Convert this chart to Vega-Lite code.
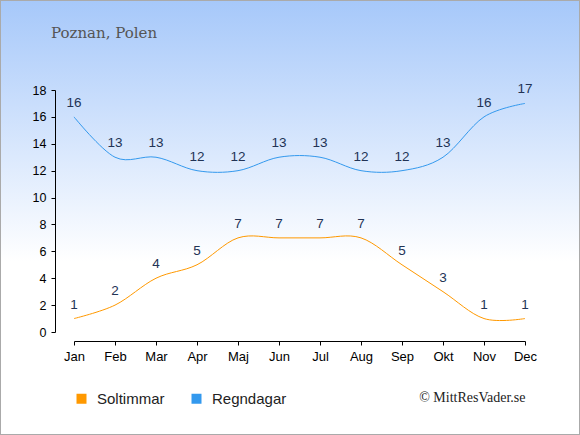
{
  "$schema": "https://vega.github.io/schema/vega-lite/v6.json",
  "width": 580,
  "height": 435,
  "autosize": "none",
  "padding": 0,
  "background": "#ffffff",
  "title": {
    "text": "Poznan, Polen",
    "anchor": "start",
    "dx": 51,
    "offset": -41,
    "font": "DejaVu Serif",
    "fontSize": 15,
    "fontWeight": "normal",
    "color": "#555555"
  },
  "data": {
    "values": [
      {"month": "Jan", "series": "Soltimmar", "value": 1},
      {"month": "Feb", "series": "Soltimmar", "value": 2},
      {"month": "Mar", "series": "Soltimmar", "value": 4},
      {"month": "Apr", "series": "Soltimmar", "value": 5},
      {"month": "Maj", "series": "Soltimmar", "value": 7},
      {"month": "Jun", "series": "Soltimmar", "value": 7},
      {"month": "Jul", "series": "Soltimmar", "value": 7},
      {"month": "Aug", "series": "Soltimmar", "value": 7},
      {"month": "Sep", "series": "Soltimmar", "value": 5},
      {"month": "Okt", "series": "Soltimmar", "value": 3},
      {"month": "Nov", "series": "Soltimmar", "value": 1},
      {"month": "Dec", "series": "Soltimmar", "value": 1},
      {"month": "Jan", "series": "Regndagar", "value": 16},
      {"month": "Feb", "series": "Regndagar", "value": 13},
      {"month": "Mar", "series": "Regndagar", "value": 13},
      {"month": "Apr", "series": "Regndagar", "value": 12},
      {"month": "Maj", "series": "Regndagar", "value": 12},
      {"month": "Jun", "series": "Regndagar", "value": 13},
      {"month": "Jul", "series": "Regndagar", "value": 13},
      {"month": "Aug", "series": "Regndagar", "value": 12},
      {"month": "Sep", "series": "Regndagar", "value": 12},
      {"month": "Okt", "series": "Regndagar", "value": 13},
      {"month": "Nov", "series": "Regndagar", "value": 16},
      {"month": "Dec", "series": "Regndagar", "value": 17}
    ]
  },
  "encoding": {
    "x": {
      "field": "month",
      "type": "ordinal",
      "sort": null,
      "scale": {"type": "point", "range": [74, 525], "padding": 0},
      "axis": {
        "title": "© MittResVader.se",
        "offset": -94,
        "labelAngle": 0,
        "grid": false,
        "domainColor": "#000000",
        "tickColor": "#000000",
        "tickSize": 4,
        "labelColor": "#000000",
        "labelFont": "Liberation Sans",
        "labelFontSize": 13,
        "labelPadding": 5,
        "titleFont": "Liberation Serif",
        "titleFontSize": 14,
        "titleFontWeight": "normal",
        "titleColor": "#222222",
        "titleAnchor": "end",
        "titlePadding": 27
      }
    },
    "y": {
      "field": "value",
      "type": "quantitative",
      "scale": {"domain": [0, 18], "range": [332, 90], "nice": false},
      "axis": {
        "title": null,
        "offset": -55,
        "values": [0, 2, 4, 6, 8, 10, 12, 14, 16, 18],
        "grid": false,
        "domainColor": "#000000",
        "tickColor": "#000000",
        "tickSize": 4,
        "labelColor": "#000000",
        "labelFont": "Liberation Sans",
        "labelFontSize": 12.5,
        "labelPadding": 5
      }
    },
    "color": {
      "field": "series",
      "type": "nominal",
      "scale": {"domain": ["Soltimmar", "Regndagar"], "range": ["#ff9900", "#3399ee"]},
      "legend": {
        "title": null,
        "orient": "none",
        "legendX": 74,
        "legendY": 391,
        "direction": "horizontal",
        "symbolType": "square",
        "symbolSize": 100,
        "symbolStrokeWidth": 0,
        "labelFont": "Liberation Sans",
        "labelFontSize": 15,
        "labelColor": "#222222",
        "labelOffset": 8,
        "columnPadding": 24,
        "encode": {
          "symbols": {
            "update": {
              "fill": {"scale": "color", "field": "value"},
              "opacity": {"value": 1}
            }
          }
        }
      }
    }
  },
  "layer": [
    {"mark": {"type": "line", "interpolate": "cardinal", "strokeWidth": 1}},
    {
      "mark": {
        "type": "text",
        "dy": -14,
        "font": "Liberation Sans",
        "fontSize": 13.5
      },
      "encoding": {
        "text": {"field": "value", "type": "quantitative"},
        "color": {"value": "#223355"}
      }
    }
  ],
  "config": {
    "view": {
      "fill": {
        "gradient": "linear",
        "x1": 0, "y1": 0, "x2": 0, "y2": 1,
        "stops": [
          {"offset": 0, "color": "#a6c8fa"},
          {"offset": 0.6, "color": "#ffffff"},
          {"offset": 1, "color": "#ffffff"}
        ]
      },
      "stroke": "#aaaaaa",
      "strokeWidth": 2
    }
  }
}
